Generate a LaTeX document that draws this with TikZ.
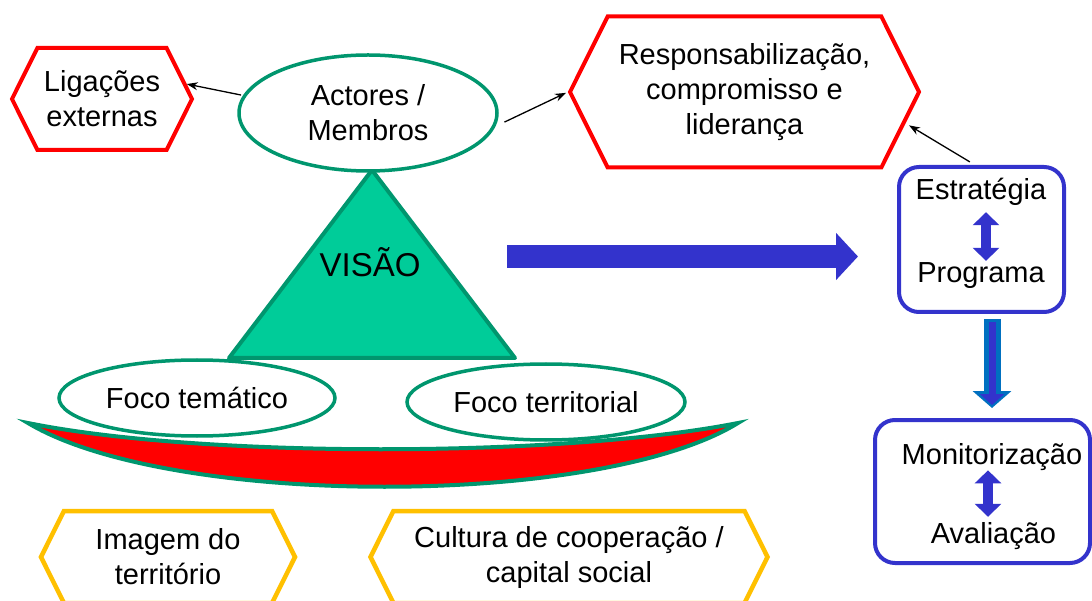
\documentclass[tikz,border=0pt]{standalone}
\usepackage{fontspec}
\setmainfont{Liberation Sans}
\usetikzlibrary{arrows.meta,shapes.geometric,shapes.symbols}
\definecolor{hexred}{RGB}{255,0,0}
\definecolor{visgreen}{RGB}{0,204,153}
\definecolor{rimgreen}{RGB}{0,150,110}
\definecolor{planblue}{RGB}{51,51,204}
\definecolor{flowblue}{RGB}{0,112,192}
\definecolor{baseyellow}{RGB}{255,192,0}

\begin{document}
\begin{tikzpicture}[x=1pt,y=-1pt,font=\fontsize{29}{35}\selectfont,
hexa/.style={signal,signal to=west and east,signal pointer angle=127,line width=4pt,fill=white,align=center,inner sep=0pt},
redhex/.style={hexa,draw=hexred},
yelhex/.style={hexa,draw=baseyellow,line width=4.5pt},
oval/.style={ellipse,draw=rimgreen,line width=3.5pt,fill=white,align=center,inner sep=0pt},
plan/.style={draw=planblue,line width=4pt,rounded corners=20pt},
word/.style={inner sep=0pt,anchor=base},
link/.style={-{Stealth[length=11pt,width=8pt]},line width=1.3pt},
swap/.style={{Triangle[width=26pt,length=13pt]}-{Triangle[width=26pt,length=13pt]},line width=10pt,draw=planblue},
push/.style={-{Triangle[width=46pt,length=22pt]},line width=23pt,draw=planblue}]
\useasboundingbox (0,0) rectangle (1092,601);

% base of the vision
\draw[rimgreen,line width=4pt,fill=hexred] (28,423) .. controls (200,458) and (560,458) .. (738,423)
  .. controls (600,508) and (170,508) .. cycle;
\draw[rimgreen,line width=4pt,fill=visgreen,line join=round] (372,170) -- (229,358) -- (515,358) -- cycle;
\node[word] (vis) at (370,277) {\fontsize{33}{35}\selectfont VISÃO};

\node[oval,minimum width=258pt,minimum height=116pt] (act) at (368,113) {Actores /\\Membros};
\node[oval,minimum width=276pt,minimum height=76pt] (tema) at (197,398) {Foco temático};
\node[oval,minimum width=278pt,minimum height=76pt] (terr) at (546,402) {Foco territorial};

\node[redhex,minimum width=180pt,minimum height=102pt] (lig) at (102,99) {Ligações\\externas};
\node[redhex,minimum width=349pt,minimum height=151pt] (resp) at (744.5,92) {Responsabilização,\\compromisso e\\liderança};

\node[yelhex,minimum width=254pt,minimum height=92pt] (img) at (168,557) {Imagem do\\território};
\node[yelhex,minimum width=397pt,minimum height=92pt] (cult) at (569,557) {Cultura de cooperação /\\capital social};

% plan side
\node[plan,minimum width=165pt,minimum height=145pt] (strat) at (981.5,239.5) {};
\node[word] (estr) at (981,200) {Estratégia};
\node[word] (prog) at (981,283) {Programa};
\node[plan,minimum width=215pt,minimum height=143pt] (mon) at (982.5,491.5) {};
\node[word] (moni) at (992,464) {Monitorização};
\node[word] (aval) at (993.5,543) {Avaliação};

\draw[swap,shorten <=6pt,shorten >=2pt] ([xshift=5pt]estr.south) -- ([xshift=5pt]prog.north);
\draw[swap,shorten <=0pt,shorten >=5pt] ([xshift=-4pt]moni.south) -- ([xshift=-5.5pt]aval.north);

\coordinate (pushA) at (507,256.5);
\coordinate (pushB) at (858,256.5);
\draw[push] (pushA) -- (pushB);

\coordinate (fallA) at (992,319);
\coordinate (fallB) at (992,408);
\draw[flowblue,line width=17pt,-{Triangle[width=38pt,length=17pt]}] (fallA) -- (fallB);
\draw[planblue,line width=7pt,shorten <=3pt,shorten >=3pt,-{Triangle[width=24pt,length=11pt]}] (fallA) -- (fallB);

% thin links
\draw[link,shorten <=2pt] (act.172) -- (lig.10);
\draw[link,shorten <=10pt,shorten >=2pt] (act.-6) -- (resp.west);
\draw[link,shorten <=6pt,shorten >=4pt] (strat.95) -- (resp.-11);
\end{tikzpicture}
\end{document}
